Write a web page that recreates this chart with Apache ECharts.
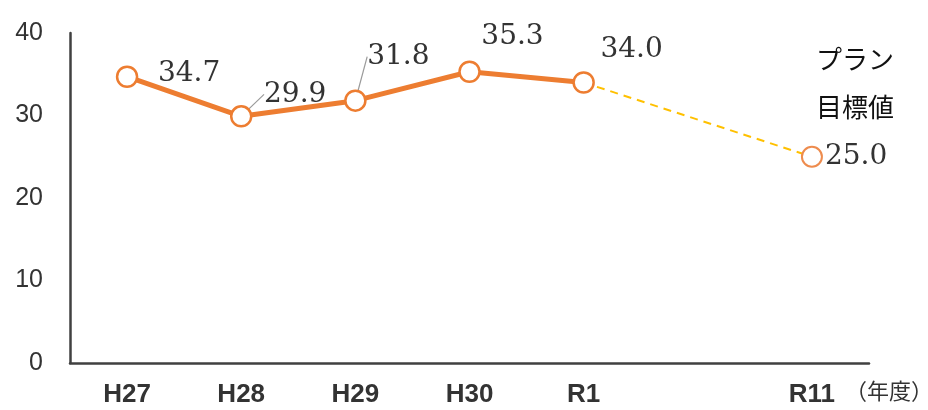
<!DOCTYPE html>
<html><head><meta charset="utf-8">
<script src="https://cdn.jsdelivr.net/npm/echarts@6/dist/echarts.min.js"></script>
<style>html,body{margin:0;padding:0;background:#fff}#c{width:928px;height:410px}</style>
</head><body><div id="c"></div>
<script>
const categories = ['H27', 'H28', 'H29', 'H30', 'R1', '', 'R11'];
const actualValues = [34.7, 29.9, 31.8, 35.3, 34.0, null, null];
const targetValues = [null, null, null, null, 34.0, null, 25.0];
const yMin = 0, yMax = 40, yInterval = 10;

// label styling (offsets from point centre) kept separate from data
const actualLabelOffsets = [[62, -3], [54, -22], [43, -44], [43, -35], [48, -33], null, null];
const actualLeader = [false, true, true, false, false, false, false];

const chart = echarts.init(document.getElementById('c'));
const serif = 'DejaVu Serif';
const labelStyle = { fontFamily: serif, fontSize: 28, color: '#333' };

chart.setOption({
  backgroundColor: '#ffffff',
  animation: false,
  grid: { left: 70, right: 59, top: 33, bottom: 47 },
  xAxis: {
    type: 'category', data: categories, boundaryGap: true,
    axisLine: { lineStyle: { color: '#404040', width: 2.5 } },
    axisTick: { show: false },
    axisLabel: { margin: 19, fontFamily: '"Liberation Sans Narrow", "Liberation Sans"', fontWeight: 'bold', fontSize: 26, color: '#333' }
  },
  yAxis: {
    type: 'value', min: yMin, max: yMax, interval: yInterval,
    axisLine: { show: true, lineStyle: { color: '#404040', width: 2.5 } },
    axisTick: { show: false },
    splitLine: { show: false },
    axisLabel: { margin: 27, fontFamily: '"Liberation Sans"', fontSize: 25, color: '#333' }
  },
  series: [
    {
      type: 'line', z: 2,
      data: targetValues.map((v, i) => v == null ? null :
        (i === targetValues.length - 1 ? { value: v } : { value: v, symbol: 'none', label: { show: false } })),
      connectNulls: true,
      lineStyle: { color: '#FFC000', width: 2, type: [8, 6] },
      symbol: 'circle', symbolSize: 20,
      itemStyle: { color: '#fff', borderColor: '#EE8C4E', borderWidth: 2 },
      label: { show: true, position: 'right', distance: 2, formatter: p => p.value.toFixed(1), ...labelStyle }
    },
    {
      type: 'line', z: 3,
      data: actualValues.map((v, i) => v == null ? null : {
        value: v,
        labelLine: { show: actualLeader[i], lineStyle: { color: '#9a9a9a', width: 1.2 } }
      }),
      lineStyle: { color: '#ED7D31', width: 5 },
      symbol: 'circle', symbolSize: 20,
      itemStyle: { color: '#fff', borderColor: '#ED7D31', borderWidth: 2.5 },
      label: { show: true, position: 'inside', formatter: p => p.value.toFixed(1), ...labelStyle },
      labelLine: { show: false },
      labelLayout: p => {
        const o = actualLabelOffsets[p.dataIndex];
        return o ? { dx: o[0], dy: o[1] } : {};
      }
    }
  ],
  graphic: [
    { type: 'text', left: 816, top: 46, style: { text: 'プラン', font: '26px "Noto Sans CJK JP"', fill: '#111' } },
    { type: 'text', left: 816, top: 94, style: { text: '目標値', font: '26px "Noto Sans CJK JP"', fill: '#111' } },
    { type: 'text', left: 845, top: 380, style: { text: '（年度）', font: '22px "Noto Sans CJK JP"', fill: '#333' } }
  ]
});
</script></body></html>
